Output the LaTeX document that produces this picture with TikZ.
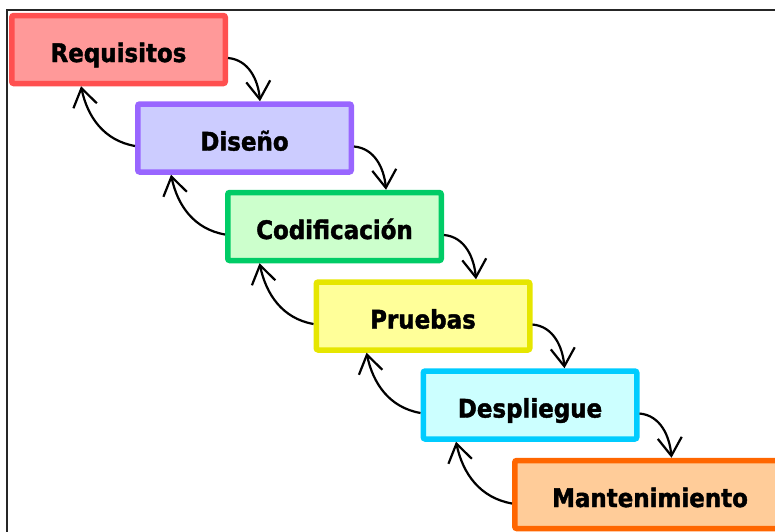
\documentclass[tikz,border=0pt]{standalone}
\usepackage{fontspec}
\setmainfont{DejaVu Sans}
\newfontfamily\labfont[FakeBold=1.6,FakeStretch=0.9]{DejaVu Sans Bold}
\usetikzlibrary{arrows.meta,calc}
\definecolor{reqB}{HTML}{FF5050}\definecolor{reqF}{HTML}{FF9999}
\definecolor{disB}{HTML}{9966FF}\definecolor{disF}{HTML}{CCCCFF}
\definecolor{codB}{HTML}{00CC66}\definecolor{codF}{HTML}{CCFFCC}
\definecolor{pruB}{HTML}{E6E600}\definecolor{pruF}{HTML}{FFFF99}
\definecolor{desB}{HTML}{00CCFF}\definecolor{desF}{HTML}{CCFFFF}
\definecolor{manB}{HTML}{FF6600}\definecolor{manF}{HTML}{FFCC99}
\begin{document}
\begin{tikzpicture}[x=1pt,y=-1pt,
  phase/.style={draw=#1B, fill=#1F, line width=5.5pt, rounded corners=2pt,
    minimum width=213.5pt, minimum height=68pt, inner sep=0pt,
    text height=25pt, text depth=0pt,
    font=\labfont\fontsize{25.5}{28}\selectfont},
  flow/.style={line width=2.2pt, black, -{Straight Barb[length=18pt,width=24pt]}}]
\clip (0,0) rectangle (775,531);
\useasboundingbox (0,0) rectangle (775,531);
\draw[line width=2.2pt, black!85] (7,10) rectangle (800,560);

\node[phase=req] (req) at (118.5,49.5) {Requisitos};
\node[phase=dis] (dis) at (244.5,138) {Diseño};
\node[phase=cod] (cod) at (334.5,226.5) {Codificación};
\node[phase=pru] (pru) at (423,316) {Pruebas};
\node[phase=des] (des) at (530,405) {Despliegue};
\node[phase=man, minimum width=270.5pt] (man) at (650,494.5) {Mantenimiento};

% forward arrows
\draw[flow] ([yshift=-8.5pt]req.east) to[out=-5,in=95] ($(dis.north -| req.east)+(32,0)$);
\draw[flow] ([yshift=-8.5pt]dis.east) to[out=-5,in=95] ($(cod.north -| dis.east)+(32,0)$);
\draw[flow] ([yshift=-8.5pt]cod.east) to[out=-5,in=95] ($(pru.north -| cod.east)+(32,0)$);
\draw[flow] ([yshift=-8.5pt]pru.east) to[out=-5,in=95] ($(des.north -| pru.east)+(32,0)$);
\draw[flow] ([yshift=-8.5pt]des.east) to[out=-5,in=95] ($(man.north -| des.east)+(32,0)$);

% backward arrows
\draw[flow] ([yshift=-8pt]dis.west) to[out=170,in=-78] ($(req.south -| dis.west)+(-54,0)$);
\draw[flow] ([yshift=-8pt]cod.west) to[out=170,in=-78] ($(dis.south -| cod.west)+(-54,0)$);
\draw[flow] ([yshift=-8pt]pru.west) to[out=170,in=-78] ($(cod.south -| pru.west)+(-54,0)$);
\draw[flow] ([yshift=-8pt]des.west) to[out=170,in=-78] ($(pru.south -| des.west)+(-54,0)$);
\draw[flow] ([yshift=-9pt]man.west) to[out=170,in=-78] ($(des.south -| man.west)+(-56,0)$);
\end{tikzpicture}
\end{document}
